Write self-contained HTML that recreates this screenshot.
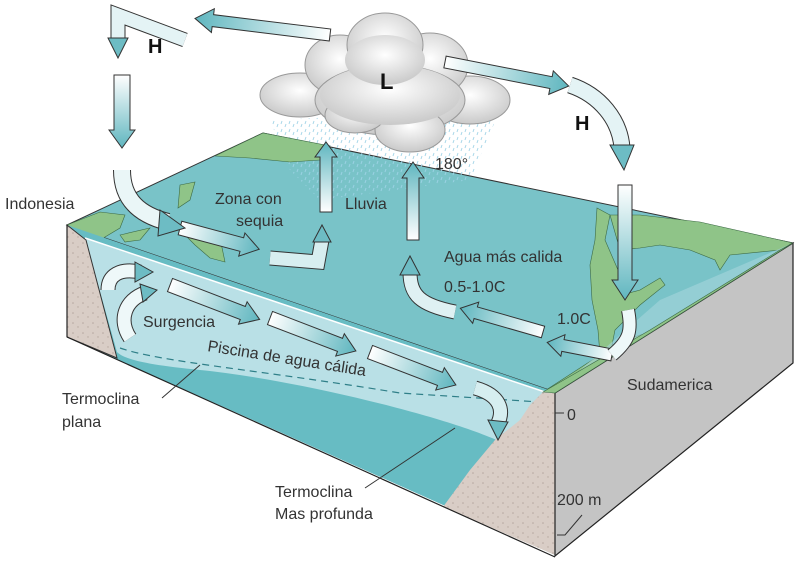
<!DOCTYPE html>
<html><head><meta charset="utf-8"><style>
html,body{margin:0;padding:0;background:#fff;}
svg text{font-family:"Liberation Sans",sans-serif;fill:#333;}
</style></head><body>
<svg width="800" height="564" viewBox="0 0 800 564" xmlns="http://www.w3.org/2000/svg">
<defs>
<linearGradient id="ag" x1="0" y1="0" x2="1" y2="0"><stop offset="0" stop-color="#ffffff"/><stop offset="1" stop-color="#5fb6bf"/></linearGradient>
<radialGradient id="cl" cx="0.5" cy="0.4" r="0.6"><stop offset="0" stop-color="#ffffff"/><stop offset="1" stop-color="#c9c9c9"/></radialGradient>
<pattern id="rain" width="8" height="8" patternUnits="userSpaceOnUse"><rect width="8" height="8" fill="none"/><line x1="2" y1="1" x2="1" y2="4" stroke="#9fd3e6" stroke-width="1"/><line x1="6" y1="4" x2="5" y2="7" stroke="#9fd3e6" stroke-width="1"/></pattern>
<pattern id="dirt" width="10" height="10" patternUnits="userSpaceOnUse"><rect width="10" height="10" fill="#d9cdc6"/><circle cx="3" cy="3" r="0.8" fill="#b5a79f"/><circle cx="8" cy="7" r="0.7" fill="#b5a79f"/></pattern>
</defs>

<polygon points="67,225 263,133 793,243 555,392" fill="#79c3c8" stroke="#333" stroke-width="1"/>
<polygon points="270,120 500,110 470,180 320,200 290,170" fill="url(#rain)" opacity="0.9"/>
<path d="M215,156 L263,133 L330,146 L320,160 L290,162 L250,158 Z" fill="#8fc488" stroke="#3c6a45" stroke-width="0.6"/>
<path d="M67,225 L100,212 L125,215 L120,228 L100,240 L85,243 Z" fill="#8fc488" stroke="#3c6a45" stroke-width="0.6"/>
<path d="M180,230 L220,238 L225,262 L210,258 L195,245 Z" fill="#8fc488" stroke="#3c6a45" stroke-width="0.6"/>
<path d="M120,235 L150,228 L140,240 L125,242 Z" fill="#8fc488" stroke="#3c6a45" stroke-width="0.6"/>
<path d="M180,185 L195,182 L190,200 L178,208 Z" fill="#8fc488" stroke="#3c6a45" stroke-width="0.6"/>
<path d="M597,208 L610,215 L605,240 L618,270 L622,295 L640,290 L660,278 L665,285 L640,305 L615,330 L612,345 L640,335 L660,330 L555,392 L543,392 L600,355 L598,330 L592,300 L590,265 L595,240 Z" fill="#8fc488" stroke="#3c6a45" stroke-width="0.6"/>
<path d="M610,215 L640,215 L700,222 L793,243 L780,250 L730,255 L720,270 L715,260 L690,250 L660,245 L640,248 L620,250 Z" fill="#8fc488" stroke="#3c6a45" stroke-width="0.6"/>
<path d="M660,300 L793,243 L555,392 Z" fill="#a7d6dc" opacity="0.6"/>

<polygon points="67,225 555,392 555,555 67,337" fill="#67bcc3"/>
<path d="M85,238 L545,392 L520,420 L507,445 C460,420 300,380 200,370 C150,365 125,360 117,352 Z" fill="#b9e0e6"/>
<line x1="85" y1="238" x2="545" y2="392" stroke="#fff" stroke-width="1.5"/>
<path d="M120,348 C160,362 260,370 400,393 L540,402" fill="none" stroke="#2f7f88" stroke-width="1.2" stroke-dasharray="7,5"/>
<polygon points="67,225 86,240 117,358 67,337" fill="url(#dirt)" stroke="#333" stroke-width="1"/>
<polygon points="543,392 555,393 555,555 443,507 470,470 495,440 520,420 530,405" fill="url(#dirt)"/>
<line x1="67" y1="337" x2="555" y2="557" stroke="#222" stroke-width="1.2"/>
<line x1="67" y1="225" x2="67" y2="337" stroke="#222" stroke-width="1.2"/>
<polygon points="555,393 793,243 793,363 555,556" fill="#c4c4c4" stroke="#222" stroke-width="1.2"/>
<path d="M543,392 L555,393 L793,243 L780,250 L650,330 Z" fill="#8fc488" stroke="#3c6a45" stroke-width="0.6"/>

<g stroke="#999" stroke-width="1" fill="url(#cl)">
<ellipse cx="300" cy="95" rx="40" ry="22"/>
<ellipse cx="470" cy="100" rx="40" ry="24"/>
<ellipse cx="340" cy="65" rx="35" ry="30"/>
<ellipse cx="430" cy="65" rx="38" ry="32"/>
<ellipse cx="385" cy="45" rx="38" ry="32"/>
<ellipse cx="390" cy="100" rx="75" ry="35"/>
<ellipse cx="410" cy="130" rx="35" ry="22"/>
<ellipse cx="355" cy="115" rx="30" ry="18"/>
</g>
<g stroke="none" fill="url(#cl)">
<ellipse cx="390" cy="95" rx="70" ry="30"/>
<ellipse cx="385" cy="60" rx="40" ry="25"/>
</g>

<g stroke="#333" stroke-width="1">
<g transform="translate(330,35) rotate(187)"><polygon points="0,-6 118,-6 118,-12 136,0 118,12 118,6 0,6" fill="url(#ag)"/></g>
<g transform="translate(445,62) rotate(11)"><polygon points="0,-6 108,-6 108,-12 126,0 108,12 108,6 0,6" fill="url(#ag)"/></g>
<g transform="translate(122,75) rotate(90)"><polygon points="0,-8 55,-8 55,-13 73,0 55,13 55,8 0,8" fill="url(#ag)"/></g>
<g transform="translate(625,185) rotate(90)"><polygon points="0,-7 95,-7 95,-13 115,0 95,13 95,7 0,7" fill="url(#ag)"/></g>
<g transform="translate(180,228) rotate(15)"><polygon points="0,-7 64,-7 64,-12 82,0 64,12 64,7 0,7" fill="url(#ag)"/></g>
<g transform="translate(326,212) rotate(-90)"><polygon points="0,-6 55,-6 55,-11 70,0 55,11 55,6 0,6" fill="url(#ag)"/></g>
<g transform="translate(413,240) rotate(-90)"><polygon points="0,-6 62,-6 62,-11 78,0 62,11 62,6 0,6" fill="url(#ag)"/></g>
<g transform="translate(170,285) rotate(21)"><polygon points="0,-7 78,-7 78,-12 96,0 78,12 78,7 0,7" fill="url(#ag)"/></g>
<g transform="translate(270,318) rotate(21)"><polygon points="0,-7 75,-7 75,-12 92,0 75,12 75,7 0,7" fill="url(#ag)"/></g>
<g transform="translate(370,352) rotate(21)"><polygon points="0,-7 75,-7 75,-12 92,0 75,12 75,7 0,7" fill="url(#ag)"/></g>
<g transform="translate(543,332) rotate(196)"><polygon points="0,-6 70,-6 70,-11 86,0 70,11 70,6 0,6" fill="url(#ag)"/></g>
<g transform="translate(612,355) rotate(191)"><polygon points="0,-6 50,-6 50,-11 66,0 50,11 50,6 0,6" fill="url(#ag)"/></g>
</g>

<g fill="none" stroke-linecap="butt">
<path d="M122,170 C122,200 140,215 168,222" stroke="#333" stroke-width="18"/>
<path d="M122,170 C122,200 140,215 168,222" stroke="#eaf6f7" stroke-width="16"/>
<path d="M270,258 L318,262 L322,240" stroke="#333" stroke-width="15" stroke-linejoin="miter"/>
<path d="M270,258 L318,262 L322,240" stroke="#d7eef0" stroke-width="13" stroke-linejoin="miter"/>
<path d="M455,312 C420,305 410,295 410,272" stroke="#333" stroke-width="15"/>
<path d="M455,312 C420,305 410,295 410,272" stroke="#dff1f3" stroke-width="13"/>
<path d="M612,355 C630,340 632,330 628,310" stroke="#333" stroke-width="14"/>
<path d="M612,355 C630,340 632,330 628,310" stroke="#eef8f9" stroke-width="12"/>
<path d="M475,388 C500,395 505,410 497,425" stroke="#333" stroke-width="15"/>
<path d="M475,388 C500,395 505,410 497,425" stroke="#d6eef0" stroke-width="13"/>
<path d="M108,290 C108,275 120,268 140,272" stroke="#333" stroke-width="15"/>
<path d="M108,290 C108,275 120,268 140,272" stroke="#eef8f9" stroke-width="13"/>
<path d="M130,338 C118,320 125,300 145,293" stroke="#333" stroke-width="15"/>
<path d="M130,338 C118,320 125,300 145,293" stroke="#eef8f9" stroke-width="13"/>
<path d="M185,40 L118,15 L118,40" stroke="#333" stroke-width="15" stroke-linejoin="miter"/>
<path d="M185,40 L118,15 L118,40" stroke="#e4f3f5" stroke-width="13" stroke-linejoin="miter"/>
<path d="M570,85 C600,95 620,120 622,148" stroke="#333" stroke-width="17"/>
<path d="M570,85 C600,95 620,120 622,148" stroke="#e4f3f5" stroke-width="15"/>
</g>
<g stroke="#333" stroke-width="1">
<polygon points="160,210 185,228 158,236" fill="#6dbcc4"/>
<polygon points="313,242 322,225 331,242" fill="#6dbcc4"/>
<polygon points="400,275 410,256 420,275" fill="#6dbcc4"/>
<polygon points="488,420 498,440 508,422" fill="#6dbcc4"/>
<polygon points="135,262 153,272 135,282" fill="#6dbcc4"/>
<polygon points="140,284 157,290 143,302" fill="#6dbcc4"/>
<polygon points="108,38 118,58 128,38" fill="#6dbcc4"/>
<polygon points="610,145 624,170 634,145" fill="#6dbcc4"/>
</g>

<g font-size="16">
<text x="148" y="53" font-size="20" font-weight="bold" style="fill:#111">H</text>
<text x="380" y="89" font-size="22" font-weight="bold" style="fill:#111">L</text>
<text x="575" y="130" font-size="20" font-weight="bold" style="fill:#111">H</text>
<text x="5" y="209">Indonesia</text>
<text x="215" y="204">Zona con</text>
<text x="236" y="226">sequia</text>
<text x="345" y="209">Lluvia</text>
<text x="435" y="169">180°</text>
<text x="444" y="262">Agua más calida</text>
<text x="444" y="292">0.5-1.0C</text>
<text x="557" y="324">1.0C</text>
<text x="143" y="327">Surgencia</text>
<text x="0" y="0" transform="translate(207,351) rotate(9)">Piscina de agua cálida</text>
<text x="62" y="404">Termoclina</text>
<text x="62" y="427">plana</text>
<text x="275" y="497">Termoclina</text>
<text x="275" y="519">Mas profunda</text>
<text x="627" y="390">Sudamerica</text>
<text x="567" y="420">0</text>
<text x="557" y="505">200 m</text>
</g>
<g stroke="#333" stroke-width="1" fill="none">
<line x1="162" y1="398" x2="200" y2="365"/>
<line x1="365" y1="488" x2="455" y2="428"/>
<line x1="555" y1="413" x2="564" y2="413"/>
<polyline points="557,535 565,535 582,515"/>
</g>
</svg>
</body></html>
